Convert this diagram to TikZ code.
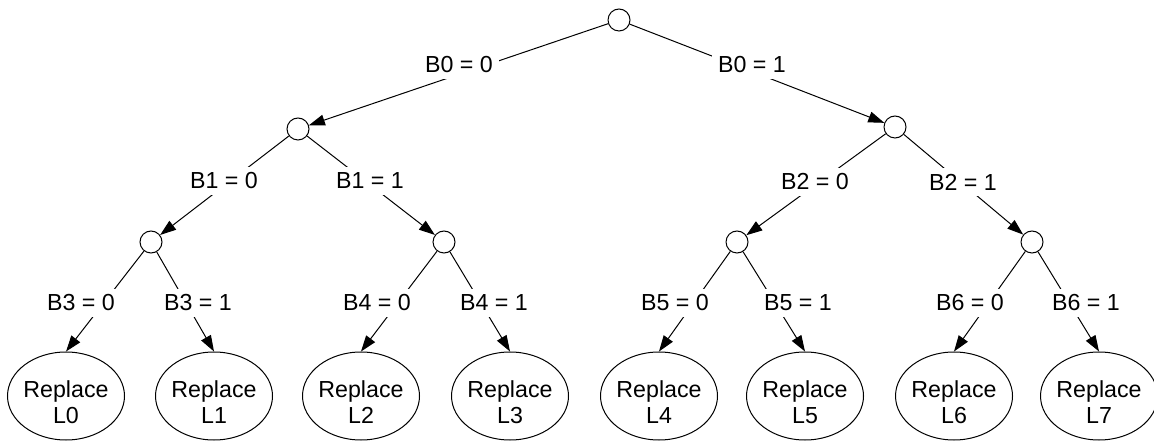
\documentclass[tikz,border=0pt]{standalone}
\usepackage{fontspec}
\setmainfont{Liberation Sans}
\usetikzlibrary{arrows.meta,shapes.geometric}
\tikzset{
  knot/.style={circle,draw,line width=0.5pt,minimum size=11pt,inner sep=0pt},
  leaf/.style={ellipse,draw,line width=0.5pt,minimum width=58.5pt,minimum height=44pt,
    inner xsep=-2pt,inner ysep=0pt,align=center,font=\fontsize{11.6}{13}\selectfont},
  bitlabel/.style={fill=white,inner sep=3pt,font=\fontsize{11.6}{13}\selectfont},
  branch/.style={line width=0.5pt,-{Triangle[length=8pt,width=5.5pt]}},
}

\begin{document}
\begin{tikzpicture}[x=0.5pt,y=-0.5pt]
  \useasboundingbox (0,0) rectangle (1154,442);
  \node[knot] (r) at (619,20) {};
  \node[knot] (n0) at (298,129) {};
  \node[knot] (n1) at (895,127) {};
  \node[knot] (n00) at (151,242) {};
  \node[knot] (n01) at (444,242) {};
  \node[knot] (n10) at (737,242) {};
  \node[knot] (n11) at (1032,242) {};
  \foreach \i/\x in {0/66,1/214,2/361,3/510,4/659,5/805,6/954,7/1099}
    \node[leaf] (l\i) at (\x,396) {\rule{0pt}{14.4pt}Replace\\L\i};
  \draw[branch] (r) -- (n0);
  \draw[branch] (r) -- (n1);
  \draw[branch] (n0) -- (n00);
  \draw[branch] (n0) -- (n01);
  \draw[branch] (n1) -- (n10);
  \draw[branch] (n1) -- (n11);
  \draw[branch] (n00) -- (l0.north);
  \draw[branch] (n00) -- (l1.north);
  \draw[branch] (n01) -- (l2.north);
  \draw[branch] (n01) -- (l3.north);
  \draw[branch] (n10) -- (l4.north);
  \draw[branch] (n10) -- (l5.north);
  \draw[branch] (n11) -- (l6.north);
  \draw[branch] (n11) -- (l7.north);
  \node[bitlabel] (b0z) at (459,65) {B0 = 0};
  \node[bitlabel] (b0o) at (752,65) {B0 = 1};
  \node[bitlabel] (b1z) at (224,181) {B1 = 0};
  \node[bitlabel] (b1o) at (370,181) {B1 = 1};
  \node[bitlabel] (b2z) at (815,182) {B2 = 0};
  \node[bitlabel] (b2o) at (963,182) {B2 = 1};
  \node[bitlabel] (b3z) at (81,303) {B3 = 0};
  \node[bitlabel] (b3o) at (198,303) {B3 = 1};
  \node[bitlabel] (b4z) at (377,303) {B4 = 0};
  \node[bitlabel] (b4o) at (494,303) {B4 = 1};
  \node[bitlabel] (b5z) at (675,303) {B5 = 0};
  \node[bitlabel] (b5o) at (798,303) {B5 = 1};
  \node[bitlabel] (b6z) at (970,303) {B6 = 0};
  \node[bitlabel] (b6o) at (1086,303) {B6 = 1};
\end{tikzpicture}
\end{document}
